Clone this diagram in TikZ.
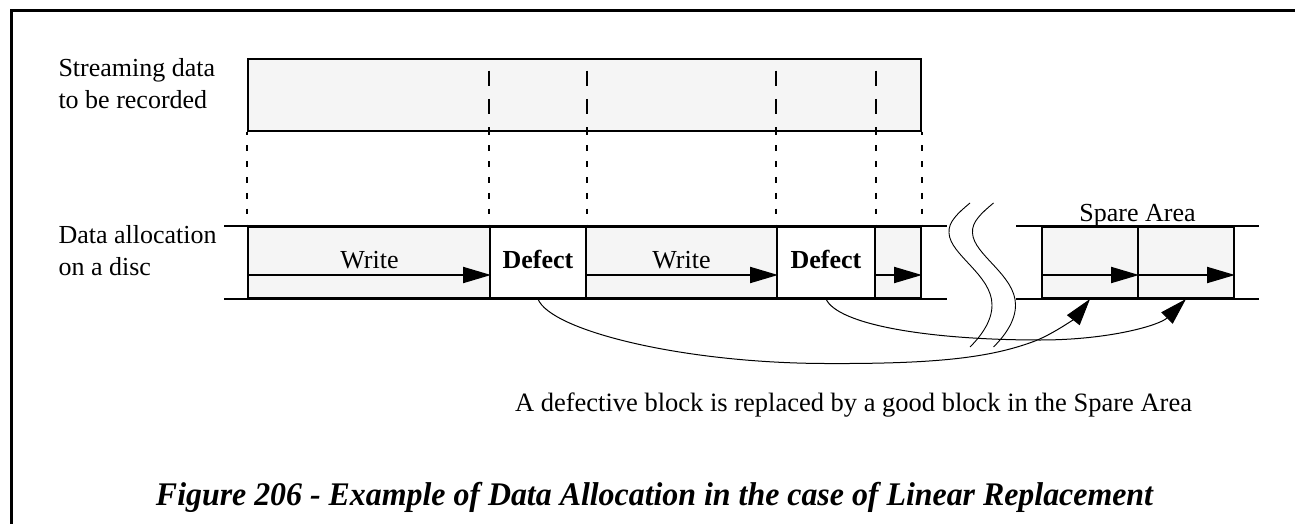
\documentclass[tikz,border=0pt]{standalone}
\usepackage{fontspec}
\setmainfont{Liberation Serif}
\newfontfamily\capfont[FakeStretch=0.966]{Liberation Serif}
\usetikzlibrary{arrows.meta}
\definecolor{cellgray}{HTML}{F5F5F5}
\begin{document}
\begin{tikzpicture}[x=1pt,y=-1pt,
  cell/.style={draw, line width=2pt, fill=cellgray, minimum width=#1, minimum height=71pt, inner sep=0pt},
  rule/.style={line width=2pt},
  flow/.style={line width=2pt, -{Triangle[length=28pt,width=16pt]}},
  longdash/.style={line width=2pt, dash pattern=on 15pt off 13.3pt, dash phase=15.6pt},
  shortdash/.style={line width=2pt, dash pattern=on 5.7pt off 10.15pt, dash phase=2.25pt},
  remap/.style={line width=1pt, -{Triangle[length=27pt,width=16pt]}},
  wave/.style={line width=0.9pt},
  lbl/.style={font=\fontsize{26}{31}\selectfont, inner sep=0pt},
  every node/.style={inner sep=0pt}]
\useasboundingbox (0,0) rectangle (1295,524);
% frame
\draw[line width=3pt] (11.3,524) -- (11.3,10.5) -- (1295,10.5);

% streaming data box
\node[draw, line width=2pt, fill=cellgray, minimum width=673pt, minimum height=71.7pt] (top) at (584.5,94.85) {};

% disc cells
\node[cell=242pt] (w1) at (369,262.5) {};
\node[cell=96pt, fill=white] (d1) at (538,262.5) {};
\node[cell=191pt] (w2) at (681.5,262.5) {};
\node[cell=98pt, fill=white] (d2) at (826,262.5) {};
\node[cell=46pt] (w3) at (898,262.5) {};
\node[cell=96pt] (s1) at (1090,262.5) {};
\node[cell=96pt] (s2) at (1186,262.5) {};

% row rules
\draw[rule] ([xshift=-23pt]w1.north west) -- ([xshift=25pt]w3.north east);
\draw[rule] ([xshift=-23pt]w1.south west) -- ([xshift=25pt]w3.south east);
\draw[rule] ([xshift=-25pt]s1.north west) -- ([xshift=24pt]s2.north east);
\draw[rule] ([xshift=-25pt]s1.south west) -- ([xshift=24pt]s2.south east);

% dashed guides inside the streaming box
\foreach \c in {d1.west, d1.east, d2.west, d2.east}
  \draw[longdash] (top.north -| \c) -- (top.south -| \c);
% dashed guides between the rows
\foreach \c in {w1.west, d1.west, d1.east, d2.west, d2.east, w3.east}
  \draw[shortdash] (top.south -| \c) -- (w1.north -| \c);

% write arrows
\foreach \n in {w1, w2, w3, s1, s2}
  \draw[flow] ([yshift=-12.5pt]\n.west) -- ([yshift=-12.5pt]\n.east);

% labels
\node[lbl, anchor=base west] (l1) at (58.3,76.7) {Streaming data};
\node[lbl, anchor=base west] (l2) at (58.3,108.3) {to be recorded};
\node[lbl, anchor=base west] (l3) at (58.3,243.3) {Data allocation};
\node[lbl, anchor=base west] (l4) at (58.3,275) {on a disc};
\node[lbl, anchor=base] (t1) at (369.5,268.3) {Write};
\node[lbl, anchor=base] (t2) at (538,268.3) {\bfseries Defect};
\node[lbl, anchor=base] (t3) at (681.5,268.3) {Write};
\node[lbl, anchor=base] (t4) at (826,268.3) {\bfseries Defect};
\node[lbl, anchor=base] (sp) at (1137.5,221.7) {Spare Area};

% break marks
\foreach \dx in {0,23.5}
  \draw[wave] ({970+\dx},203) .. controls ({958+\dx},213) and ({948+\dx},222) .. ({949+\dx},233)
     .. controls ({950+\dx},255) and ({992+\dx},275) .. ({992+\dx},305)
     .. controls ({992+\dx},322) and ({980+\dx},337) .. ({970+\dx},347);

% replacement arrows
\draw[remap] (d1.south) .. controls (550,330) and (680,363) .. (825,363.5)
   .. controls (935,364) and (990,358) .. (1035,341)
   .. controls (1055,333) and (1075,318) .. (s1.south);
\draw[remap] (d2.south) .. controls (838,325) and (930,340) .. (1040,340)
   .. controls (1110,340) and (1160,325) .. (s2.south);

\node[font=\fontsize{26.5}{31}\selectfont, anchor=base] (note) at (853.5,411.7) {A defective block is replaced by a good block in the Spare Area};
\node[font=\capfont\fontsize{33}{40}\selectfont\bfseries\itshape, anchor=base] (cap) at (654.5,505)
  {Figure 206 - Example of Data Allocation in the case of Linear Replacement};
\end{tikzpicture}
\end{document}
